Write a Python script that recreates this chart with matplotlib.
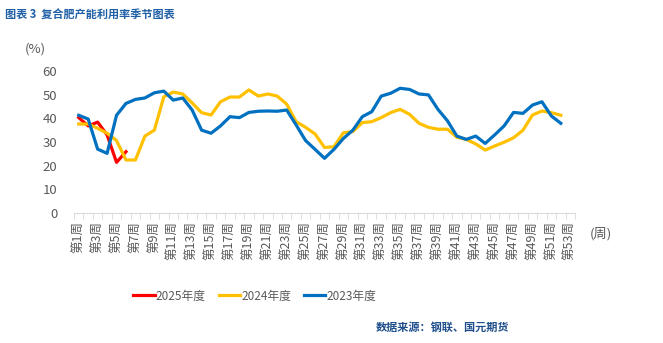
import matplotlib
matplotlib.use('Agg')
import matplotlib.pyplot as plt

plt.rcParams['font.family'] = ['Noto Sans CJK SC', 'DejaVu Sans']

# 周次与各年度产能利用率 (%)
weeks = list(range(1, 54))
week_labels = ['第%d周' % w for w in weeks]

y2025 = [40.3, 36.8, 38.4, 33.0, 21.4, 25.9]
y2024 = [37.6, 37.6, 35.8, 33.7, 30.6, 22.4, 22.4, 32.5, 35.0, 49.1,
         51.1, 50.3, 46.5, 42.4, 41.4, 47.0, 49.0, 49.0, 52.0, 49.4,
         50.3, 49.4, 46.0, 38.6, 36.2, 33.4, 27.7, 28.0, 33.9, 34.4,
         38.2, 38.6, 40.3, 42.4, 43.8, 41.7, 37.9, 36.2, 35.4, 35.4,
         32.0, 31.1, 29.2, 26.6, 28.3, 29.9, 31.8, 35.0, 41.4, 43.1,
         42.4, 41.3]
y2023 = [41.3, 39.7, 27.0, 25.2, 41.3, 46.3, 48.0, 48.6, 50.8, 51.5,
         47.7, 48.6, 43.5, 35.0, 33.7, 36.8, 40.7, 40.3, 42.5, 43.0,
         43.1, 43.0, 43.5, 37.2, 30.6, 26.9, 23.1, 26.9, 31.5, 35.0,
         40.7, 42.8, 49.4, 50.6, 52.7, 52.2, 50.3, 49.9, 43.8, 39.0,
         32.5, 31.1, 32.5, 29.4, 33.0, 36.8, 42.5, 42.1, 45.6, 47.0,
         41.0, 37.9]

gray = '#595959'

fig = plt.figure(figsize=(6.63, 3.43), dpi=100)
ax = fig.add_axes([74 / 663, 1 - 213 / 343, 501 / 663, 142 / 343])

ax.plot(weeks[:len(y2025)], y2025, color='#FF0000', lw=2.3, label='2025年度')
ax.plot(weeks[:len(y2024)], y2024, color='#FFC000', lw=2.3, label='2024年度')
ax.plot(weeks[:len(y2023)], y2023, color='#0070C0', lw=2.3, label='2023年度')

ax.set_xlim(0.5, 53.5)
ax.set_ylim(0, 60)
ax.set_yticks(range(0, 61, 10))
ax.tick_params(axis='y', length=0, labelsize=9.5, labelcolor=gray, pad=12)

ax.set_xticks(weeks[::2])
ax.set_xticklabels(week_labels[::2], rotation=90, fontsize=9, color=gray)
ax.set_xticks([w + 0.5 for w in range(0, 54)], minor=True)
ax.tick_params(axis='x', which='major', length=0, pad=6)
ax.tick_params(axis='x', which='minor', length=4, color='#D9D9D9')

for s in ['top', 'right', 'left']:
    ax.spines[s].set_visible(False)
ax.spines['bottom'].set_color('#D9D9D9')

fig.text(35 / 663, 1 - 49 / 343, '(%)', fontsize=9.5, color=gray, ha='center', va='center')
fig.text(601 / 663, 1 - 234 / 343, '(周)', fontsize=9.5, color=gray, ha='center', va='center')

fig.legend(loc='center', bbox_to_anchor=(255 / 663, 1 - 296 / 343), ncol=3,
           frameon=False, fontsize=8.5, labelcolor=gray, handlelength=1.8,
           handletextpad=0.1, columnspacing=1.1)

fig.text(5 / 663, 1 - 15 / 343, '图表 3  复合肥产能利用率季节图表', fontsize=8,
         color='#1F5FA6', fontweight='bold', ha='left', va='center')
fig.text(509 / 663, 1 - 327 / 343, '数据来源：钢联、国元期货', fontsize=8,
         color='#1F4E8C', fontweight='bold', ha='right', va='center')

fig.savefig('out.png', dpi=100)
